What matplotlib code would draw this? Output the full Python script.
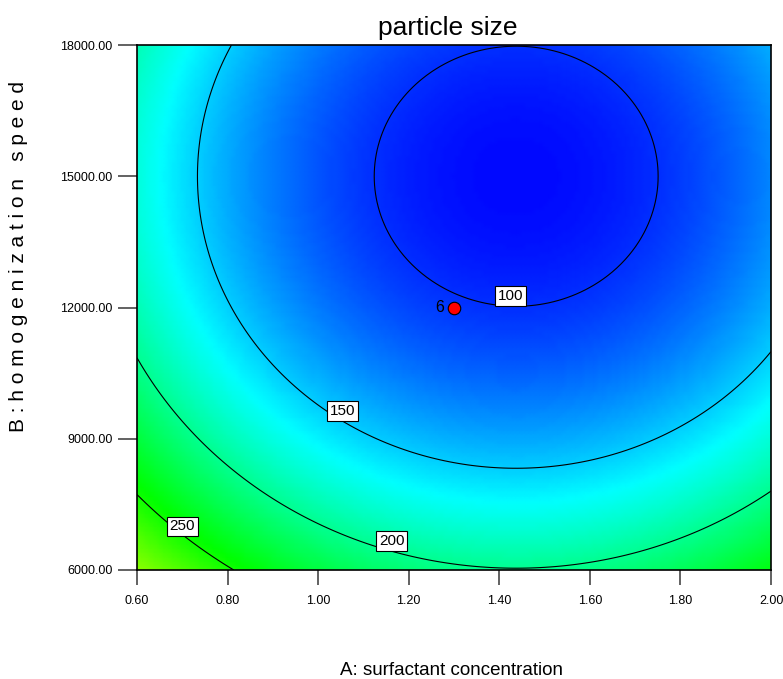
import numpy as np
import matplotlib.pyplot as plt
from matplotlib.colors import LinearSegmentedColormap

plt.rcParams['font.family'] = ['Liberation Sans', 'DejaVu Sans']

# factor ranges
a_range = [0.60, 2.00]          # A: surfactant concentration
b_range = [6000.0, 18000.0]     # B: homogenization speed

# quadratic model in coded units (x = A coded, y = B coded)
b0 = 102.6
bA = -24.2
bB = -50.4
bAB = 0.0
bAA = 61.7
bBB = 50.4

levels = [100, 150, 200, 250]
label_pos = [(1.424, 12260), (1.053, 9630), (1.163, 6660), (0.700, 7000)]

# center point (6 replicates)
center_a = [1.30]
center_b = [12000.0]
center_n = ['6']

xticks = [0.60, 0.80, 1.00, 1.20, 1.40, 1.60, 1.80, 2.00]
yticks = [6000, 9000, 12000, 15000, 18000]

A = np.linspace(a_range[0], a_range[1], 141)
B = np.linspace(b_range[0], b_range[1], 121)
AA, BB = np.meshgrid(A, B)
x = (AA - 1.30) / 0.70
y = (BB - 12000.0) / 6000.0
Z = b0 + bA * x + bB * y + bAB * x * y + bAA * x ** 2 + bBB * y ** 2

cmap = LinearSegmentedColormap.from_list(
    'dx', ['#0000ff', '#00ffff', '#00ff00', '#ffff00', '#ff0000'])

fig = plt.figure(figsize=(7.83, 6.79), dpi=100)
ax = fig.add_axes([137 / 783, 109 / 679, 634 / 783, 525 / 679])

ax.pcolormesh(AA, BB, Z, cmap=cmap, vmin=85, vmax=405, shading='gouraud')
cs = ax.contour(AA, BB, Z, levels=levels, colors='black', linewidths=0.8)
labels = ax.clabel(cs, fmt='%d', inline=False, fontsize=11, manual=label_pos)
# labels sit just above their line, upright, in white boxes
for t in labels:
    t.set_rotation(0)
    lv = float(t.get_text())
    t.set_position(label_pos[levels.index(int(lv))])
    t.set_bbox(dict(boxstyle='square,pad=0.18', facecolor='white',
                    edgecolor='black', linewidth=0.8))

ax.plot(center_a, center_b, 'o', color='red', markeredgecolor='black',
        markersize=9, markeredgewidth=0.8, zorder=5)
for a, b, n in zip(center_a, center_b, center_n):
    ax.annotate(n, (a, b), xytext=(-7, 0), textcoords='offset points',
                ha='right', va='center', fontsize=11.5)

ax.set_xlim(a_range)
ax.set_ylim(b_range)
ax.set_xticks(xticks)
ax.set_yticks(yticks)
ax.set_xticklabels(['%.2f' % v for v in xticks])
ax.set_yticklabels(['%.2f' % v for v in yticks])
ax.tick_params(axis='x', direction='out', length=11, width=1.3,
               color='#555555', labelsize=9, pad=7)
ax.tick_params(axis='y', direction='out', length=13.5, width=1.3,
               color='#555555', labelsize=9, pad=4)
for s in ax.spines.values():
    s.set_linewidth(1.2)
    s.set_color('black')

fig.text(447.5 / 783, 1 - 35 / 679, 'particle size', ha='center',
         va='baseline', fontsize=19)
fig.text(451 / 783, 1 - 675 / 679, 'A: surfactant concentration',
         ha='center', va='baseline', fontsize=13.5)
fig.text(19 / 783, 1 - 257 / 679,
         'B : h o m o g e n i z a t i o n   s p e e d',
         ha='center', va='center', rotation=90, fontsize=15)

fig.savefig('out.png', dpi=100)
